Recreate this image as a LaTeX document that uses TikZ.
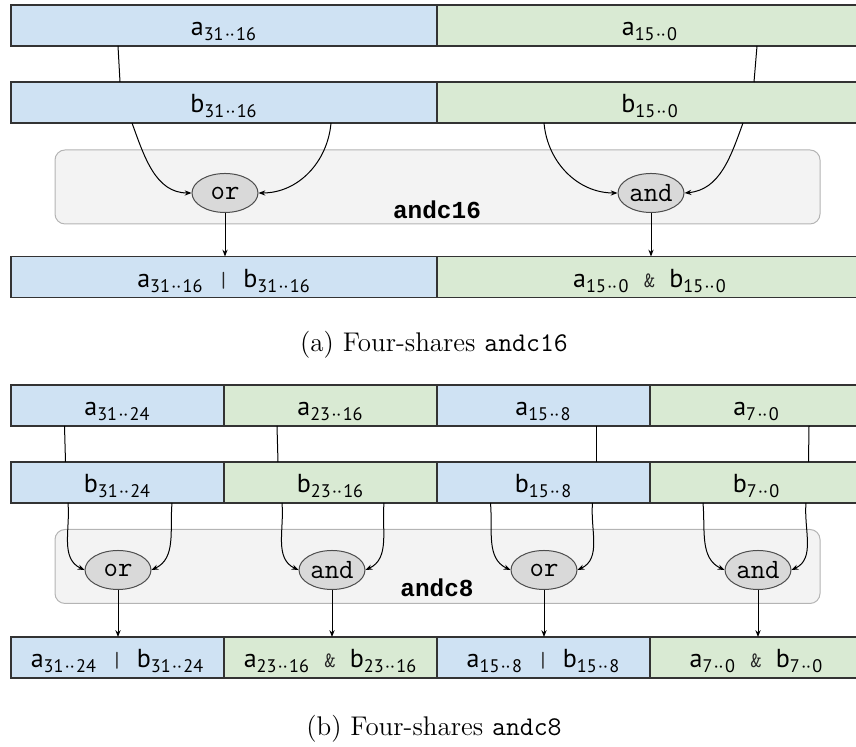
\documentclass[tikz,border=0pt]{standalone}
\usepackage{fontspec}
\setmainfont{Latin Modern Roman}
\newfontfamily\labelfont{PT Sans}
\newfontfamily\unitfont{Liberation Mono}
\usetikzlibrary{positioning, arrows.meta, shapes.geometric}

\definecolor{cellblue}{HTML}{CFE2F3}
\definecolor{cellgreen}{HTML}{D9EAD3}
\definecolor{unitfill}{HTML}{F3F3F3}
\definecolor{unitdraw}{HTML}{B4B4B4}
\definecolor{gatefill}{HTML}{D9D9D9}

\newcommand{\bits}[3]{#1\textsubscript{#2\kern0.08em··\kern0.08em#3}}
\newcommand{\opsym}[1]{\hspace{0.55em}{\ttfamily\fontsize{11}{11}\selectfont\color{black!85}#1}\hspace{0.55em}}

\begin{document}
\begin{tikzpicture}[>=Stealth,
    cell/.style={draw=black!80, line width=0.7pt, minimum width=213pt, minimum height=20.5pt,
      inner sep=0pt, outer sep=0pt, text height=12pt, text depth=1.5pt,
      font=\labelfont\fontsize{13}{15}\selectfont},
    bluecell/.style={cell, fill=cellblue},
    greencell/.style={cell, fill=cellgreen},
    quartercell/.style={minimum width=106.5pt},
    unit/.style={draw=unitdraw, fill=unitfill, line width=0.5pt, rounded corners=5pt,
      minimum width=382.5pt, minimum height=37pt, inner sep=0pt},
    unitname/.style={font=\unitfont\bfseries\fontsize{12.2}{14}\selectfont, inner sep=0pt},
    gate/.style={ellipse, draw=black!70, fill=gatefill, line width=0.5pt, minimum width=33pt,
      minimum height=19.5pt, inner sep=0pt, font=\ttfamily\fontsize{14}{14}\selectfont},
    wire/.style={line width=0.5pt},
    flow/.style={wire, -{Stealth[length=3.4pt, width=2.6pt]}},
    caption/.style={font=\fontsize{13.5}{16}\selectfont, inner sep=0pt},
  ]
  \useasboundingbox (0,0) rectangle (428pt,373.5pt);
  \clip (0,0) rectangle (428pt,373.5pt);

  % (a) two halves
  \node[unit] (unit16) at (218.75pt,280pt) {};
  \node[unitname] (unit16name) at (218.5pt,268.5pt) {andc16};

  \node[bluecell] (ahi) at (112pt,360.75pt) {\bits{a}{31}{16}};
  \node[greencell, right=0pt of ahi] (alo) {\bits{a}{15}{0}};
  \node[bluecell, below=18pt of ahi] (bhi) {\bits{b}{31}{16}};
  \node[greencell, right=0pt of bhi] (blo) {\bits{b}{15}{0}};

  \node[gate] (orhi) at (112.5pt,277pt) {or};
  \node[gate] (andlo) at (325.5pt,277pt) {and};

  \node[bluecell] (ohi) at (112pt,235pt) {\bits{a}{31}{16}\opsym{|}\bits{b}{31}{16}};
  \node[greencell, right=0pt of ohi] (olo) {\bits{a}{15}{0}\opsym{\&}\bits{b}{15}{0}};

  \node[caption] (capa) at (217pt,201pt) {(a) Four-shares \texttt{andc16}};

  \draw[wire] ([xshift=-53pt]ahi.south) -- ([xshift=-52pt]bhi.north);
  \draw[wire] ([xshift=53.5pt]alo.south) -- ([xshift=52pt]blo.north);
  \draw[flow] ([xshift=-46pt]bhi.south) to[out=-70,in=180] (orhi.west);
  \draw[flow] ([xshift=53.5pt]bhi.south) to[out=-95,in=0] (orhi.east);
  \draw[flow] ([xshift=-53pt]blo.south) to[out=-85,in=180] (andlo.west);
  \draw[flow] ([xshift=46.5pt]blo.south) to[out=-110,in=5] (andlo.east);
  \draw[flow] (orhi.south) -- (orhi.south |- ohi.north);
  \draw[flow] (andlo.south) -- (andlo.south |- olo.north);

  % (b) four quarters
  \node[unit] (unit8) at (218.75pt,90.25pt) {};
  \node[unitname] (unit8name) at (218.5pt,79.5pt) {andc8};

  \node[bluecell, quartercell] (a3) at (58.75pt,170.75pt) {\bits{a}{31}{24}};
  \node[greencell, quartercell, right=0pt of a3] (a2) {\bits{a}{23}{16}};
  \node[bluecell, quartercell, right=0pt of a2] (a1) {\bits{a}{15}{8}};
  \node[greencell, quartercell, right=0pt of a1] (a0) {\bits{a}{7}{0}};
  \node[bluecell, quartercell, below=18pt of a3] (b3) {\bits{b}{31}{24}};
  \node[greencell, quartercell, right=0pt of b3] (b2) {\bits{b}{23}{16}};
  \node[bluecell, quartercell, right=0pt of b2] (b1) {\bits{b}{15}{8}};
  \node[greencell, quartercell, right=0pt of b1] (b0) {\bits{b}{7}{0}};

  \node[gate] (or3) at (59pt,88.5pt) {or};
  \node[gate] (and2) at (166pt,88.5pt) {and};
  \node[gate] (or1) at (272pt,88.5pt) {or};
  \node[gate] (and0) at (379pt,88.5pt) {and};

  \node[bluecell, quartercell] (o3) at (58.75pt,44.75pt) {\bits{a}{31}{24}\opsym{|}\bits{b}{31}{24}};
  \node[greencell, quartercell, right=0pt of o3] (o2) {\bits{a}{23}{16}\opsym{\&}\bits{b}{23}{16}};
  \node[bluecell, quartercell, right=0pt of o2] (o1) {\bits{a}{15}{8}\opsym{|}\bits{b}{15}{8}};
  \node[greencell, quartercell, right=0pt of o1] (o0) {\bits{a}{7}{0}\opsym{\&}\bits{b}{7}{0}};

  \node[caption] (capb) at (217pt,9pt) {(b) Four-shares \texttt{andc8}};

  \draw[wire] ([xshift=-26.5pt]a3.south) -- ([xshift=-26pt]b3.north);
  \draw[wire] ([xshift=-26.75pt]a2.south) -- ([xshift=-26.25pt]b2.north);
  \draw[wire] ([xshift=26.5pt]a1.south) -- ([xshift=26.5pt]b1.north);
  \draw[wire] ([xshift=26.25pt]a0.south) -- ([xshift=26pt]b0.north);

  \draw[flow] ([xshift=-24.75pt]b3.south) to[out=-85,in=155] (or3.west);
  \draw[flow] ([xshift=27.25pt]b3.south) to[out=-95,in=25] (or3.east);
  \draw[flow] ([xshift=-24.25pt]b2.south) to[out=-85,in=155] (and2.west);
  \draw[flow] ([xshift=26.75pt]b2.south) to[out=-95,in=25] (and2.east);
  \draw[flow] ([xshift=-26.5pt]b1.south) to[out=-85,in=155] (or1.west);
  \draw[flow] ([xshift=24.5pt]b1.south) to[out=-95,in=25] (or1.east);
  \draw[flow] ([xshift=-26.75pt]b0.south) to[out=-85,in=155] (and0.west);
  \draw[flow] ([xshift=24.75pt]b0.south) to[out=-95,in=25] (and0.east);

  \draw[flow] (or3.south) -- (or3.south |- o3.north);
  \draw[flow] (and2.south) -- (and2.south |- o2.north);
  \draw[flow] (or1.south) -- (or1.south |- o1.north);
  \draw[flow] (and0.south) -- (and0.south |- o0.north);
\end{tikzpicture}
\end{document}
